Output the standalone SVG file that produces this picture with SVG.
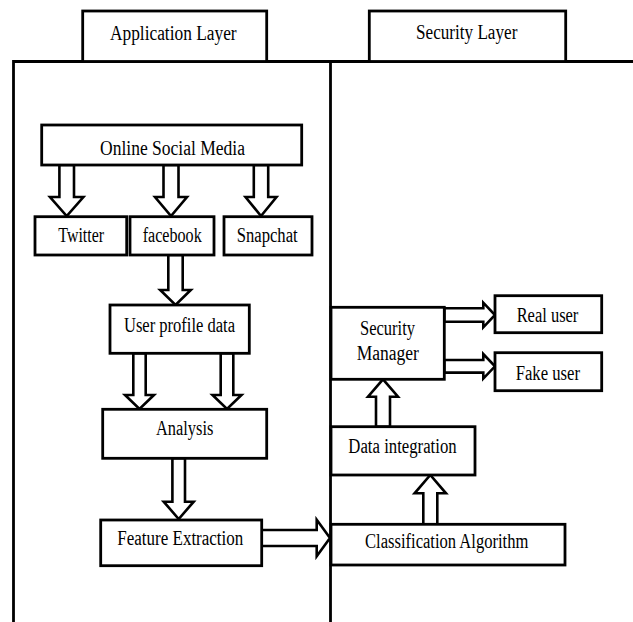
<svg xmlns="http://www.w3.org/2000/svg" width="633" height="622" viewBox="0 0 633 622">
<style>
.box{fill:#fff;stroke:#000;stroke-width:2.8}
.frame{fill:none;stroke:#000;stroke-width:2.8}
.arr{fill:#fff;stroke:#000;stroke-width:2.6;stroke-linejoin:miter}
text{font-family:"Liberation Serif","Times New Roman",serif;font-size:20px;fill:#000;text-anchor:middle}
</style>
<rect width="633" height="622" fill="#fff"/>
<g id="frame">
<path class="frame" d="M13.5,622 V61.5 H633 M330.5,61.5 V622"/>
</g>
<g id="app-layer">
<rect class="box" x="82.7" y="11" width="184" height="50.5"/>
<text x="173.3" y="40" textLength="126.7" lengthAdjust="spacingAndGlyphs">Application Layer</text>
</g>
<g id="sec-layer">
<rect class="box" x="369.3" y="11" width="196.4" height="50.5"/>
<text x="466.7" y="39" textLength="101.3" lengthAdjust="spacingAndGlyphs">Security Layer</text>
</g>
<g id="connectors">
<polygon class="arr" points="59.4,165 74,165 74,197 83.4,197 66.7,216 50,197 59.4,197"/>
<polygon class="arr" points="163.5,165 178.5,165 178.5,197 187,197 171,216 155,197 163.5,197"/>
<polygon class="arr" points="253.8,165 268.2,165 268.2,197 276.5,197 261,216 245.5,197 253.8,197"/>
<polygon class="arr" points="168.3,255 182.7,255 182.7,290 190.8,290 175.5,305 160.2,290 168.3,290"/>
<polygon class="arr" points="133.3,353.3 145.7,353.3 145.7,395 154,395 139.5,409 125,395 133.3,395"/>
<polygon class="arr" points="220.7,353.3 233.3,353.3 233.3,395 241.5,395 227,409 212.5,395 220.7,395"/>
<polygon class="arr" points="172.4,458.3 185,458.3 185,501.7 193.7,501.7 178.7,519 163.7,501.7 172.4,501.7"/>
<polygon class="arr" points="261.7,530 316.7,530 316.7,519.7 330,538 316.7,556.3 316.7,546 261.7,546"/>
<polygon class="arr" points="444.3,308.3 483.3,308.3 483.3,302.7 495,315 483.3,327.3 483.3,321.7 444.3,321.7"/>
<polygon class="arr" points="444.3,360 483.3,360 483.3,354 495,366.3 483.3,378.6 483.3,372.6 444.3,372.6"/>
<polygon class="arr" points="376,426.7 390,426.7 390,396.7 398,396.7 383,379.3 368,396.7 376,396.7"/>
<polygon class="arr" points="423.3,524.3 437.3,524.3 437.3,493.3 446,493.3 430.3,475 414.6,493.3 423.3,493.3"/>
</g>
<g id="osm">
<rect class="box" x="41.7" y="125" width="260" height="40"/>
<text x="172.5" y="155" textLength="145" lengthAdjust="spacingAndGlyphs">Online Social Media</text>
</g>
<g id="twitter">
<rect class="box" x="35" y="216.7" width="91.7" height="38.3"/>
<text x="81.2" y="241.7" textLength="45.7" lengthAdjust="spacingAndGlyphs">Twitter</text>
</g>
<g id="facebook">
<rect class="box" x="130" y="216.7" width="84" height="38.3"/>
<text x="172.2" y="241.7" textLength="59" lengthAdjust="spacingAndGlyphs">facebook</text>
</g>
<g id="snapchat">
<rect class="box" x="224" y="216.7" width="88" height="38.3"/>
<text x="267.2" y="241.7" textLength="61" lengthAdjust="spacingAndGlyphs">Snapchat</text>
</g>
<g id="user-profile">
<rect class="box" x="110" y="305" width="139.3" height="48.3"/>
<text x="179.5" y="331.7" textLength="111" lengthAdjust="spacingAndGlyphs">User profile data</text>
</g>
<g id="analysis">
<rect class="box" x="102.7" y="409.3" width="164" height="49"/>
<text x="184.7" y="435" textLength="57.3" lengthAdjust="spacingAndGlyphs">Analysis</text>
</g>
<g id="feature">
<rect class="box" x="100.7" y="520" width="161" height="45.7"/>
<text x="180.3" y="545" textLength="126" lengthAdjust="spacingAndGlyphs">Feature Extraction</text>
</g>
<g id="security-manager">
<rect class="box" x="331" y="307.3" width="113.3" height="72"/>
<text x="387.5" y="335" textLength="55" lengthAdjust="spacingAndGlyphs">Security</text>
<text x="387.8" y="360" textLength="62.3" lengthAdjust="spacingAndGlyphs">Manager</text>
</g>
<g id="real-user">
<rect class="box" x="495" y="295.7" width="106.7" height="37"/>
<text x="547.5" y="321.7" textLength="61.7" lengthAdjust="spacingAndGlyphs">Real user</text>
</g>
<g id="fake-user">
<rect class="box" x="495" y="352.7" width="106.7" height="38"/>
<text x="547.8" y="380" textLength="64.3" lengthAdjust="spacingAndGlyphs">Fake user</text>
</g>
<g id="data-integration">
<rect class="box" x="331" y="426.7" width="144" height="48.3"/>
<text x="402.5" y="453.3" textLength="108.3" lengthAdjust="spacingAndGlyphs">Data integration</text>
</g>
<g id="classification">
<rect class="box" x="331" y="524.3" width="234" height="40.7"/>
<text x="446.7" y="548.3" textLength="163.3" lengthAdjust="spacingAndGlyphs">Classification Algorithm</text>
</g>
</svg>
